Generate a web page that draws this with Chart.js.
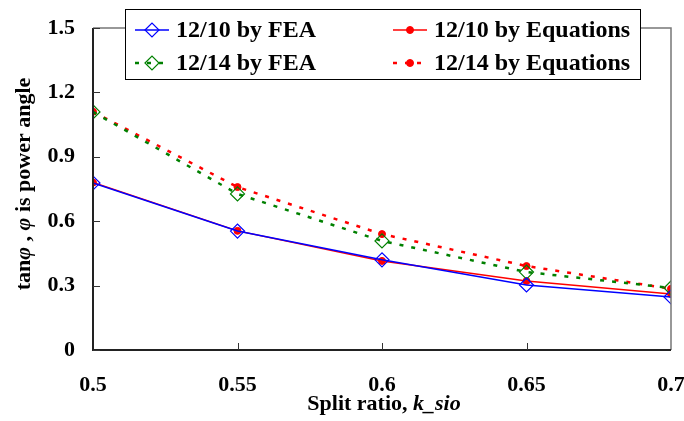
<!DOCTYPE html>
<html>
<head>
<meta charset="utf-8">
<script src="https://cdn.jsdelivr.net/npm/chart.js@4"></script>
<style>
  html, body { margin: 0; padding: 0; background: #fff; }
  #wrap { width: 684px; height: 421px; }
</style>
</head>
<body>
<div id="wrap"><canvas id="angleChart" width="684" height="421"></canvas></div>
<script>
const splitRatio = [0.5, 0.55, 0.6, 0.65, 0.7];
const fea1210 = [0.778, 0.554, 0.42, 0.303, 0.247];
const eq1210 = [0.78, 0.555, 0.415, 0.321, 0.261];
const fea1214 = [1.109, 0.727, 0.508, 0.363, 0.289];
const eq1214 = [1.11, 0.759, 0.54, 0.391, 0.285];
const yTicks = [0, 0.3, 0.6, 0.9, 1.2, 1.5];
const xTicks = [0.5, 0.55, 0.6, 0.65, 0.7];
const legendLabels = ['12/10 by FEA', '12/14 by FEA', '12/10 by Equations', '12/14 by Equations'];

const serif = '"Liberation Serif", "Times New Roman", serif';

function pts(ys) {
  return splitRatio.map((x, i) => ({ x: x, y: ys[i] }));
}

// frame, inward ticks, axis titles and the boxed legend
const decorations = {
  id: 'decorations',
  afterDatasetsDraw(chart) {
    const ctx = chart.ctx;
    const a = chart.chartArea;
    const xs = chart.scales.x, ys = chart.scales.y;
    ctx.save();
    // top and right border
    ctx.strokeStyle = '#777';
    ctx.lineWidth = 1.5;
    ctx.beginPath();
    ctx.moveTo(a.left, a.top); ctx.lineTo(a.right, a.top); ctx.lineTo(a.right, a.bottom);
    ctx.stroke();
    // left and bottom axes
    ctx.strokeStyle = '#222';
    ctx.lineWidth = 2;
    ctx.beginPath();
    ctx.moveTo(a.left, a.top); ctx.lineTo(a.left, a.bottom); ctx.lineTo(a.right, a.bottom);
    ctx.stroke();
    ctx.lineWidth = 1;
    ctx.strokeStyle = '#333';
    ctx.beginPath();
    yTicks.forEach(v => {
      const py = Math.round(ys.getPixelForValue(v)) + 0.5;
      ctx.moveTo(a.left, py); ctx.lineTo(a.left + 7, py);
    });
    xTicks.slice(1, -1).forEach(v => {
      const px = Math.round(xs.getPixelForValue(v)) + 0.5;
      ctx.moveTo(px, a.bottom); ctx.lineTo(px, a.bottom - 7);
    });
    ctx.stroke();

    // x title with italic variable name
    ctx.fillStyle = '#000';
    ctx.textBaseline = 'middle';
    const t1 = 'Split ratio, ', t2 = 'k_sio';
    ctx.font = 'bold 22px ' + serif;
    const w1 = ctx.measureText(t1).width;
    ctx.font = 'italic bold 22px ' + serif;
    const w2 = ctx.measureText(t2).width;
    const sx = 384 - (w1 + w2) / 2;
    ctx.font = 'bold 22px ' + serif;
    ctx.textAlign = 'left';
    ctx.fillText(t1, sx, 404);
    ctx.font = 'italic bold 22px ' + serif;
    ctx.fillText(t2, sx + w1, 404);

    // y title, rotated, with italic phi
    const parts = [['tan', false], ['\u03c6', true], [' , ', false], ['\u03c6', true], [' is power angle', false]];
    let total = 0;
    parts.forEach(p => {
      ctx.font = (p[1] ? 'italic ' : '') + 'bold 22px ' + serif;
      total += ctx.measureText(p[0]).width;
    });
    ctx.save();
    ctx.translate(24, 184);
    ctx.rotate(-Math.PI / 2);
    let cx = -total / 2;
    parts.forEach(p => {
      ctx.font = (p[1] ? 'italic ' : '') + 'bold 22px ' + serif;
      ctx.fillText(p[0], cx, 0);
      cx += ctx.measureText(p[0]).width;
    });
    ctx.restore();

    // legend box
    const bx = 125, by = 9, bw = 515, bh = 70;
    ctx.fillStyle = '#fff';
    ctx.fillRect(bx, by, bw, bh);
    ctx.strokeStyle = '#000';
    ctx.lineWidth = 1;
    ctx.strokeRect(bx + 0.5, by + 0.5, bw, bh);
    const slots = [
      { ds: 0, x: 135, y: 30 },
      { ds: 1, x: 135, y: 63 },
      { ds: 2, x: 393, y: 30 },
      { ds: 3, x: 393, y: 63 }
    ];
    slots.forEach(s => {
      const d = chart.data.datasets[s.ds];
      ctx.save();
      ctx.strokeStyle = d.borderColor;
      ctx.lineWidth = d.borderWidth;
      ctx.setLineDash(d.borderDash || []);
      ctx.beginPath();
      ctx.moveTo(s.x, s.y); ctx.lineTo(s.x + 34, s.y);
      ctx.stroke();
      ctx.setLineDash([]);
      ctx.fillStyle = d.pointBackgroundColor;
      ctx.strokeStyle = d.pointBorderColor;
      ctx.lineWidth = d.pointBorderWidth;
      Chart.helpers.drawPoint(ctx, {
        pointStyle: d.pointStyle,
        radius: d.pointRadius,
        borderWidth: d.pointBorderWidth
      }, s.x + 17, s.y);
      ctx.restore();
      ctx.fillStyle = '#000';
      ctx.font = 'bold 24px ' + serif;
      ctx.textAlign = 'left';
      ctx.textBaseline = 'middle';
      ctx.fillText(d.label, s.x + 41, s.y + 1);
    });
    ctx.restore();
  }
};

new Chart(document.getElementById('angleChart'), {
  type: 'line',
  data: {
    datasets: [
      {
        label: legendLabels[0],
        data: pts(fea1210),
        borderColor: '#0000ff',
        borderWidth: 1.5,
        pointStyle: 'rectRot',
        pointRadius: 7,
        pointBorderWidth: 1.2,
        pointBorderColor: '#0000ff',
        pointBackgroundColor: 'rgba(255,255,255,0)',
        tension: 0
      },
      {
        label: legendLabels[1],
        data: pts(fea1214),
        borderColor: '#008000',
        borderWidth: 2.5,
        borderDash: [4, 8],
        pointStyle: 'rectRot',
        pointRadius: 7,
        pointBorderWidth: 1.2,
        pointBorderColor: '#008000',
        pointBackgroundColor: 'rgba(255,255,255,0)',
        tension: 0
      },
      {
        label: legendLabels[2],
        data: pts(eq1210),
        borderColor: '#ff0000',
        borderWidth: 1.5,
        pointStyle: 'circle',
        pointRadius: 3.5,
        pointBorderWidth: 1,
        pointBorderColor: '#ff0000',
        pointBackgroundColor: '#ff0000',
        tension: 0
      },
      {
        label: legendLabels[3],
        data: pts(eq1214),
        borderColor: '#ff0000',
        borderWidth: 2.5,
        borderDash: [4, 8],
        pointStyle: 'circle',
        pointRadius: 3.5,
        pointBorderWidth: 1,
        pointBorderColor: '#ff0000',
        pointBackgroundColor: '#ff0000',
        tension: 0
      }
    ]
  },
  options: {
    responsive: false,
    animation: false,
    layout: { padding: { top: 28, right: 13, left: 0, bottom: 0 } },
    plugins: { legend: { display: false }, tooltip: { enabled: false } },
    scales: {
      x: {
        type: 'linear',
        min: 0.5,
        max: 0.7,
        afterFit: s => { s.height = 71; s.paddingLeft = 0; s.paddingRight = 0; },
        afterBuildTicks: s => { s.ticks = xTicks.map(v => ({ value: v })); },
        grid: { display: false, drawTicks: false },
        border: { display: false },
        ticks: {
          padding: 22,
          color: '#000',
          font: { family: serif, size: 22, weight: 'bold' },
          callback: v => String(v),
          maxRotation: 0
        }
      },
      y: {
        min: 0,
        max: 1.5,
        afterFit: s => { s.width = 93; s.paddingTop = 0; s.paddingBottom = 0; },
        afterBuildTicks: s => { s.ticks = yTicks.map(v => ({ value: v })); },
        grid: { display: false, drawTicks: false },
        border: { display: false },
        ticks: {
          padding: 18,
          color: '#000',
          font: { family: serif, size: 22, weight: 'bold' },
          callback: v => String(v)
        }
      }
    }
  },
  plugins: [decorations]
});
</script>
</body>
</html>
